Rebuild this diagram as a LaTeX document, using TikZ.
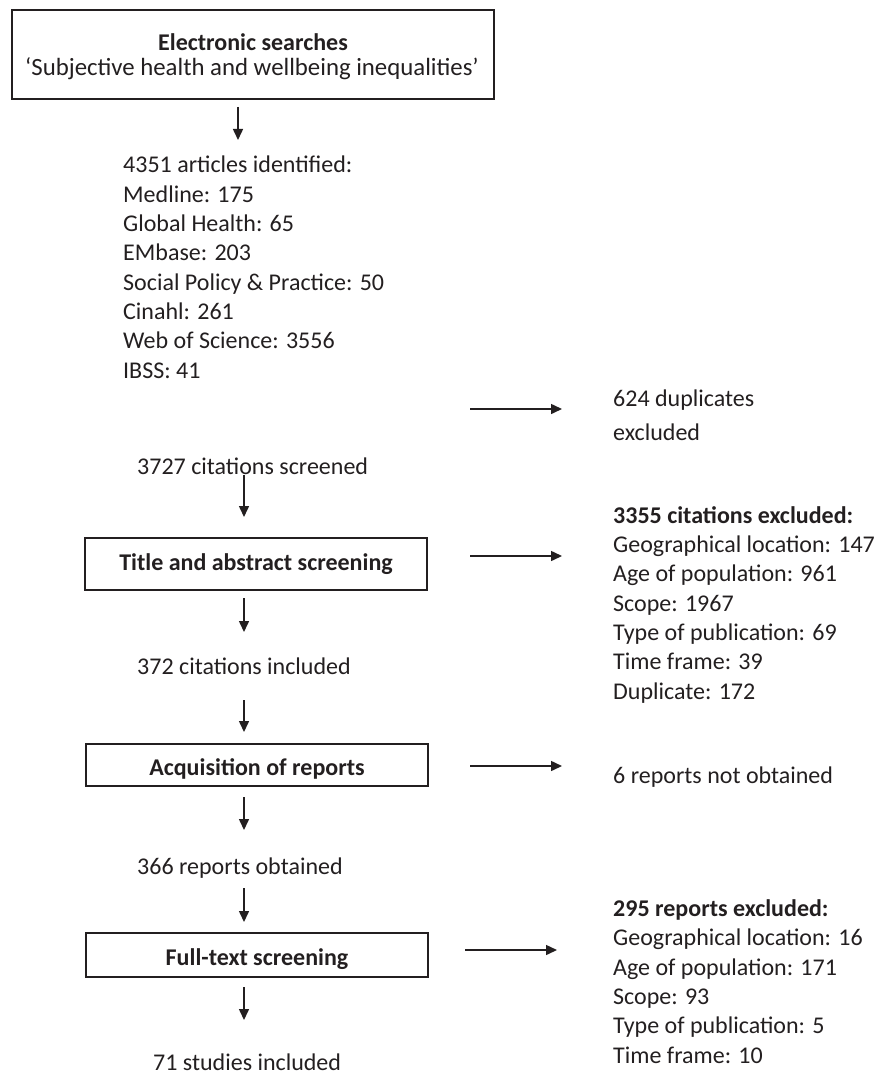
\documentclass[tikz,border=0pt]{standalone}
\usepackage{fontspec}
\setmainfont{Carlito}
\usetikzlibrary{arrows.meta}
\definecolor{ink}{HTML}{231F20}
\begin{document}
\begin{tikzpicture}[x=1pt,y=-1pt,
  every node/.style={text=ink},
  font=\fontsize{24}{29.3}\selectfont,
  box/.style={draw=ink, line width=1.2pt, inner sep=0pt},
  arr/.style={draw=ink, line width=1.5pt, -{Triangle[length=11pt,width=10pt]}},
  txt/.style={anchor=base west, align=left, inner sep=0pt},
  ctxt/.style={anchor=base, inner sep=0pt}]
\useasboundingbox (0,0) rectangle (877,1075);
% boxes
\node[box, minimum width=482pt, minimum height=89pt] (search) at (253,54.5) {};
\node[ctxt] (searcht1) at (253,51) {\bfseries Electronic searches};
\node[ctxt] (searcht2) at (252,76) {\fontsize{24.8}{29}\selectfont ‘Subjective health and wellbeing inequalities’};
\node[box, minimum width=342pt, minimum height=52pt] (title) at (256,564) {};
\node[ctxt] (titlet) at (256,570) {\bfseries Title and abstract screening};
\node[box, minimum width=342pt, minimum height=42pt] (acq) at (257,765) {};
\node[ctxt] (acqt) at (257,775) {\bfseries Acquisition of reports};
\node[box, minimum width=342pt, minimum height=44pt] (full) at (257,955) {};
\node[ctxt] (fullt) at (257,965) {\bfseries Full-text screening};
% left texts (base = last line)
\node[txt] (ident) at (123,378) {4351 articles identified:\\Medline: 175\\Global Health: 65\\EMbase: 203\\Social Policy \& Practice: 50\\Cinahl: 261\\Web of Science: 3556\\IBSS: 41};
\node[txt] (screened) at (137,474) {3727 citations screened};
\node[txt] (incl) at (137,674) {372 citations included};
\node[txt] (obt) at (137,874) {366 reports obtained};
\node[txt] (studies) at (153,1070) {71 studies included};
% right texts (base = last line)
\node[txt] (dup) at (613,440) {624 duplicates\\[4.7pt]excluded};
\node[txt] (excl1) at (613,699) {\bfseries 3355 citations excluded:\\Geographical location: 147\\Age of population: 961\\Scope: 1967\\Type of publication: 69\\Time frame: 39\\Duplicate: 172};
\node[txt] (notobt) at (613,783) {6 reports not obtained};
\node[txt] (excl2) at (613,1063) {\bfseries 295 reports excluded:\\Geographical location: 16\\Age of population: 171\\Scope: 93\\Type of publication: 5\\Time frame: 10};
% arrow end points
\coordinate (v1s) at (238,107); \coordinate (v1e) at (238,140);
\coordinate (v2s) at (244,475); \coordinate (v2e) at (244,517);
\coordinate (v3s) at (244,598); \coordinate (v3e) at (244,632);
\coordinate (v4s) at (244,700); \coordinate (v4e) at (244,732);
\coordinate (v5s) at (244,797); \coordinate (v5e) at (244,830);
\coordinate (v6s) at (244,888); \coordinate (v6e) at (244,922);
\coordinate (v7s) at (244,987); \coordinate (v7e) at (244,1020);
\coordinate (h1s) at (470,409); \coordinate (h1e) at (562,409);
\coordinate (h2s) at (470,556); \coordinate (h2e) at (562,556);
\coordinate (h3s) at (470,766); \coordinate (h3e) at (562,766);
\coordinate (h4s) at (465,950); \coordinate (h4e) at (557,950);
\foreach \a in {v1,v2,v3,v4,v5,v6,v7,h1,h2,h3,h4}
  \draw[arr] (\a s) -- (\a e);
\end{tikzpicture}
\end{document}
